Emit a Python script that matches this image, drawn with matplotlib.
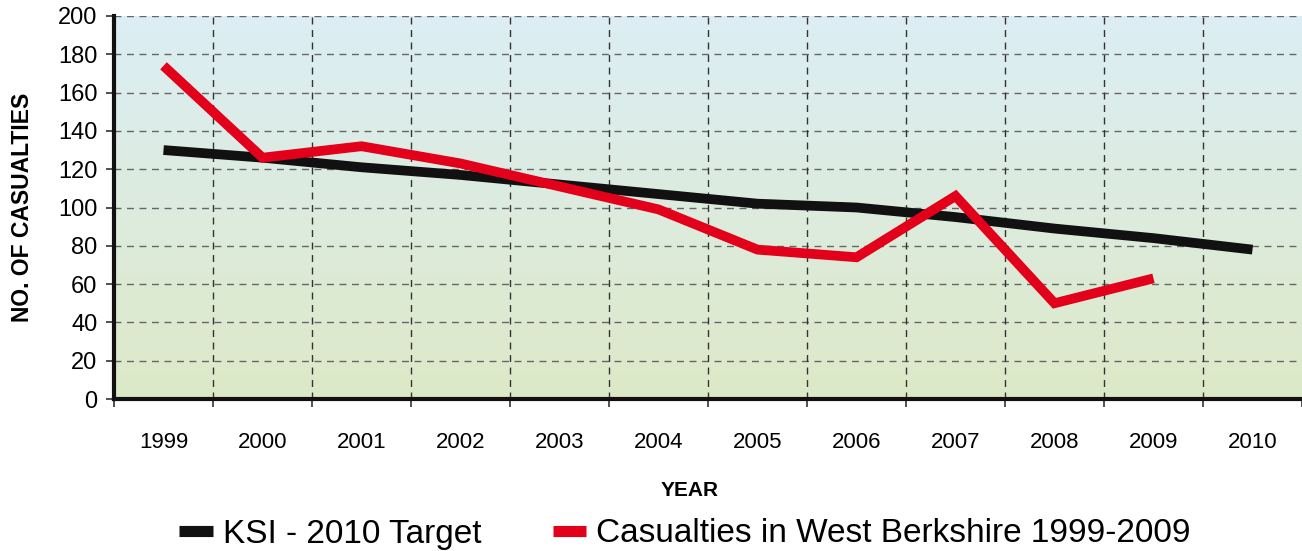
import matplotlib
matplotlib.use('Agg')
import matplotlib.pyplot as plt
from matplotlib.lines import Line2D
import numpy as np

# Data
years = ['1999', '2000', '2001', '2002', '2003', '2004',
         '2005', '2006', '2007', '2008', '2009', '2010']
ksi_target = [130, 126, 121, 117, 112, 107, 102, 100, 95, 89, 84, 78]
casualties = [174, 126, 132, 123, 111, 99, 78, 74, 106, 50, 63]

y_ticks = [0, 20, 40, 60, 80, 100, 120, 140, 160, 180, 200]

BLACK = '#111111'
RED = '#e2001a'
TOP_BG = np.array([220, 238, 245]) / 255
BOTTOM_BG = np.array([221, 233, 199]) / 255

plt.rcParams['font.family'] = ['Liberation Sans', 'DejaVu Sans']

fig = plt.figure(figsize=(13.02, 5.51), dpi=100)
ax = fig.add_axes([114 / 1302, 152 / 551, 1188 / 1302, 383 / 551])

# gradient background of the plot area
t = np.linspace(0, 1, 256)[:, None]
grad = TOP_BG[None, None, :] * (1 - t[..., None]) + BOTTOM_BG[None, None, :] * t[..., None]
grad = np.repeat(grad, 2, axis=1)
ax.imshow(grad, extent=[-0.5, 11.5, 0, 200], aspect='auto', zorder=0)

x = np.arange(len(years))
ax.plot(x, ksi_target, color=BLACK, lw=7, solid_capstyle='butt',
        solid_joinstyle='miter', zorder=3)
ax.plot(x[:len(casualties)], casualties, color=RED, lw=7, solid_capstyle='butt',
        solid_joinstyle='miter', zorder=4)

ax.set_xlim(-0.5, 11.5)
ax.set_ylim(0, 200)

# horizontal dashed grid
ax.set_yticks(y_ticks)
for v in y_ticks[1:]:
    ax.axhline(v, color='#666666', lw=1, ls=(0, (5, 4)), zorder=1)

# category boundaries: ticks + vertical dashed grid
bounds = np.arange(-0.5, 12, 1)
ax.set_xticks(bounds, minor=False)
ax.set_xticklabels([])
ax.set_xticks(x, minor=True)
ax.set_xticklabels(years, minor=True, fontsize=16)
for b in bounds[1:-1]:
    ax.axvline(b, color='#333333', lw=1, ls=(0, (5, 4)), zorder=1)

ax.tick_params(axis='x', which='major', direction='out', length=6, width=1.2, color='#333333')
ax.tick_params(axis='x', which='minor', length=0, pad=24)
ax.tick_params(axis='y', direction='out', length=6, width=1.2, color='#333333',
               labelsize=17, pad=6)

for s in ['top', 'right']:
    ax.spines[s].set_visible(False)
for s in ['left', 'bottom']:
    ax.spines[s].set_linewidth(3)
    ax.spines[s].set_color(BLACK)
    ax.spines[s].set_zorder(5)

ax.set_ylabel('NO. OF CASUALTIES', fontsize=16.5, fontweight='bold')
ax.yaxis.set_label_coords(-80 / 1188, 0.5)
fig.text(690 / 1302, 1 - 491 / 551, 'YEAR', fontsize=15, fontweight='bold',
         ha='center', va='center')

handles = [Line2D([0], [0], color=BLACK, lw=8, solid_capstyle='butt'),
           Line2D([0], [0], color=RED, lw=8, solid_capstyle='butt')]
fig.legend(handles, ['KSI - 2010 Target', 'Casualties in West Berkshire 1999-2009'],
           loc='center', bbox_to_anchor=(685 / 1302, 1 - 534 / 551), ncol=2,
           frameon=False, fontsize=24, handlelength=1.0, handletextpad=0.3,
           columnspacing=2.15, borderpad=0)

fig.savefig('out.png', dpi=100)
